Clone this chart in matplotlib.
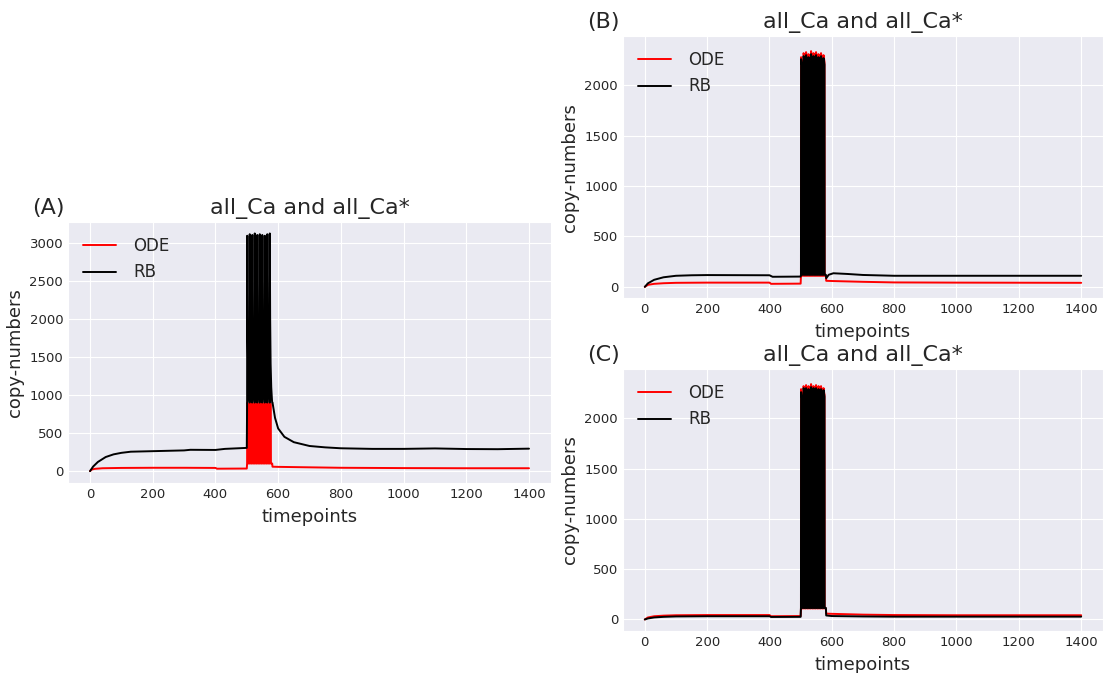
import numpy as np
import matplotlib.pyplot as plt
import seaborn as sns

sns.set_style("darkgrid")

#Pulse onsets during stimulation (shared by all runs) [timepoints]
pulse_starts = [501, 509, 517, 525, 533, 541, 549, 557, 565, 573]

#(A) baseline before / after stimulation
a_ode_pre_t = [0, 5, 15, 40, 100, 200, 300, 400, 405, 500]
a_ode_pre_v = [0, 20, 30, 38, 42, 44, 44, 42, 32, 34]
a_ode_post_t = [582, 600, 700, 800, 1000, 1200, 1400]
a_ode_post_v = [58, 56, 50, 44, 40, 38, 38]
a_rb_pre_t = [0, 10, 25, 50, 75, 100, 130, 200, 300, 320, 400, 430, 500]
a_rb_pre_v = [0, 60, 120, 185, 220, 240, 255, 262, 272, 280, 278, 292, 305]
a_rb_post_t = [582, 590, 600, 620, 650, 700, 750, 800, 900, 1000, 1100, 1200, 1300, 1400]
a_rb_post_v = [900, 700, 560, 450, 380, 330, 312, 300, 292, 292, 298, 290, 288, 295]
#(A) pulses
a_ode_trough = 100
a_ode_peaks = [900, 900, 900, 900, 900, 900, 900, 900, 900, 900]
a_rb_trough = 900
a_rb_peaks = [3090, 3110, 3100, 3120, 3100, 3110, 3100, 3090, 3110, 3120]

#(B)
b_ode_pre_t = [0, 10, 30, 60, 100, 200, 400, 405, 500]
b_ode_pre_v = [0, 20, 30, 36, 40, 42, 42, 30, 32]
b_ode_post_t = [582, 600, 700, 800, 1000, 1400]
b_ode_post_v = [60, 58, 50, 44, 42, 40]
b_rb_pre_t = [0, 10, 30, 60, 100, 150, 200, 400, 410, 500]
b_rb_pre_v = [0, 35, 70, 95, 110, 115, 117, 115, 100, 102]
b_rb_post_t = [582, 590, 605, 650, 700, 800, 1000, 1400]
b_rb_post_v = [85, 120, 135, 128, 118, 110, 110, 110]
b_ode_trough = 110
b_ode_peaks = [2280, 2320, 2330, 2310, 2340, 2320, 2330, 2310, 2320, 2300]
b_rb_trough = 120
b_rb_peaks = [2260, 2290, 2300, 2280, 2310, 2290, 2300, 2280, 2290, 2270]

#(C)
c_ode_pre_t = [0, 10, 30, 60, 100, 200, 400, 405, 500]
c_ode_pre_v = [0, 20, 32, 38, 42, 44, 44, 32, 34]
c_ode_post_t = [582, 600, 700, 800, 1000, 1400]
c_ode_post_v = [58, 56, 48, 44, 42, 42]
c_rb_pre_t = [0, 10, 30, 60, 100, 200, 400, 405, 500]
c_rb_pre_v = [0, 10, 20, 26, 30, 32, 32, 25, 26]
c_rb_post_t = [582, 600, 700, 800, 1000, 1400]
c_rb_post_v = [40, 34, 30, 28, 28, 28]
c_ode_trough = 110
c_ode_peaks = [2290, 2320, 2330, 2320, 2340, 2320, 2330, 2320, 2320, 2300]
c_rb_trough = 115
c_rb_peaks = [2260, 2300, 2300, 2290, 2310, 2300, 2300, 2290, 2290, 2280]

#Shape of one pulse (time offset, fraction of the peak height)
square_offsets = [0, 0.4, 3.6, 4.0]
square_levels = [0, 1, 0.97, 0]
decay_offsets = [0, 0.4, 1.5, 3, 5, 7.5]
decay_levels = [0, 1, 0.5, 0.23, 0.09, 0.01]


def build_series(pre_t, pre_v, trough, peaks, offsets, levels, post_t, post_v):
    t = list(pre_t)
    v = list(pre_v)
    for s, p in zip(pulse_starts, peaks):
        for o, l in zip(offsets, levels):
            t.append(s + o)
            v.append(trough + l*(p - trough))
    t.append(pulse_starts[-1] + 8)
    v.append(trough)
    t += post_t
    v += post_v
    return np.array(t), np.array(v)


def plot_panel(ax, label, ode, rb, ylim, yticks):
    ax.plot(ode[0], ode[1], color='red', lw=1.4, label='ODE')
    ax.plot(rb[0], rb[1], color='black', lw=1.4, label='RB')
    ax.set_xlim(-70, 1470)
    ax.set_ylim(*ylim)
    ax.set_xticks(range(0, 1401, 200))
    ax.set_yticks(yticks)
    ax.tick_params(labelsize=9.5, length=0)
    ax.set_title("all_Ca and all_Ca*", fontsize=16)
    ax.annotate(label, xy=(-0.075, 1), xycoords='axes fraction', xytext=(0, 6),
                textcoords='offset points', fontsize=16, va='baseline', ha='left')
    ax.set_xlabel("timepoints", fontsize=13, labelpad=5)
    ax.set_ylabel("copy-numbers", fontsize=13)
    ax.legend(loc='upper left', fontsize=12, frameon=False, handletextpad=1.0)


fig = plt.figure(figsize=(11.03, 6.73), dpi=100)
axA = fig.add_axes([0.0617, 0.2823, 0.4378, 0.3878])
axB = fig.add_axes([0.5648, 0.557, 0.4352, 0.3895])
axC = fig.add_axes([0.5648, 0.0628, 0.4352, 0.3889])

plot_panel(axA, "(A)",
           build_series(a_ode_pre_t, a_ode_pre_v, a_ode_trough, a_ode_peaks, square_offsets, square_levels, a_ode_post_t, a_ode_post_v),
           build_series(a_rb_pre_t, a_rb_pre_v, a_rb_trough, a_rb_peaks, decay_offsets, decay_levels, a_rb_post_t, a_rb_post_v),
           (-156, 3270), range(0, 3001, 500))
plot_panel(axB, "(B)",
           build_series(b_ode_pre_t, b_ode_pre_v, b_ode_trough, b_ode_peaks, square_offsets, square_levels, b_ode_post_t, b_ode_post_v),
           build_series(b_rb_pre_t, b_rb_pre_v, b_rb_trough, b_rb_peaks, square_offsets, square_levels, b_rb_post_t, b_rb_post_v),
           (-112, 2490), range(0, 2001, 500))
plot_panel(axC, "(C)",
           build_series(c_ode_pre_t, c_ode_pre_v, c_ode_trough, c_ode_peaks, square_offsets, square_levels, c_ode_post_t, c_ode_post_v),
           build_series(c_rb_pre_t, c_rb_pre_v, c_rb_trough, c_rb_peaks, square_offsets, square_levels, c_rb_post_t, c_rb_post_v),
           (-112, 2490), range(0, 2001, 500))

plt.savefig("out.png", dpi=100)
